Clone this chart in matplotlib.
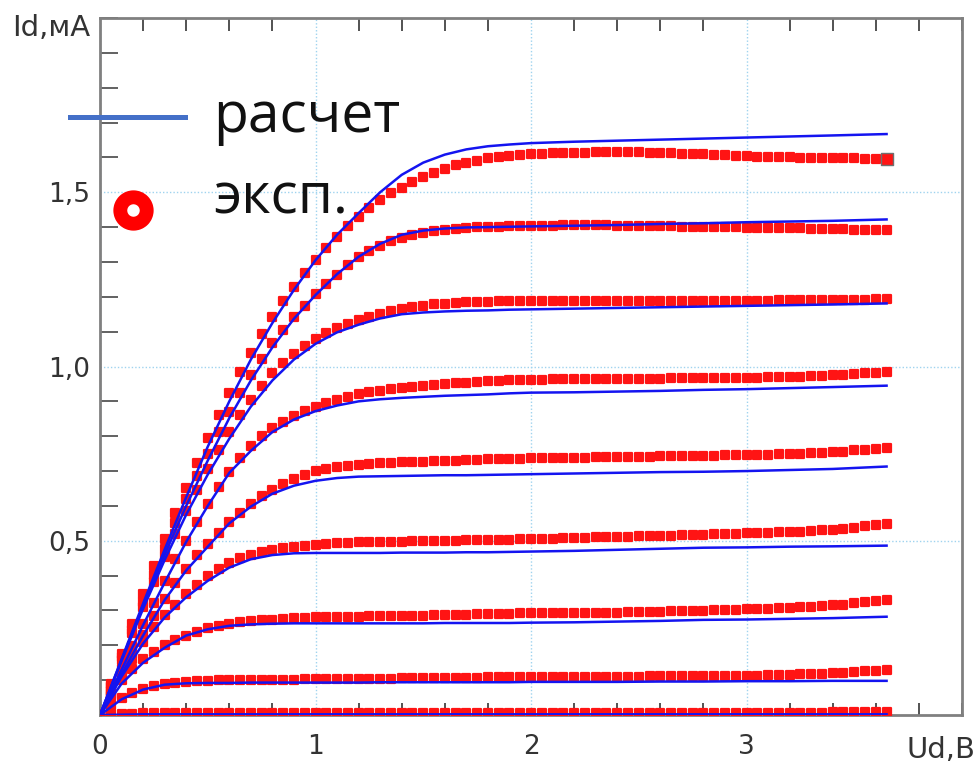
import numpy as np
import matplotlib
matplotlib.use("Agg")
import matplotlib.pyplot as plt
from matplotlib.ticker import MultipleLocator
from matplotlib.lines import Line2D
from matplotlib.markers import MarkerStyle

# ---------------- data ----------------
# experimental sweep (V), step 0.05 V
v_exp = np.round(np.arange(0.0, 3.651, 0.05), 2)

e1 = [0.000, 0.003, 0.004, 0.004, 0.005, 0.005, 0.005, 0.005, 0.005, 0.005,
      0.005, 0.005, 0.005, 0.005, 0.005, 0.005, 0.005, 0.005, 0.005, 0.005,
      0.005, 0.005, 0.005, 0.005, 0.005, 0.005, 0.005, 0.005, 0.005, 0.005,
      0.005, 0.005, 0.005, 0.005, 0.005, 0.005, 0.005, 0.005, 0.005, 0.005,
      0.005, 0.005, 0.006, 0.006, 0.006, 0.006, 0.006, 0.006, 0.006, 0.006,
      0.006, 0.006, 0.006, 0.006, 0.006, 0.006, 0.006, 0.006, 0.006, 0.006,
      0.006, 0.006, 0.007, 0.007, 0.007, 0.007, 0.007, 0.007, 0.008, 0.008,
      0.008, 0.008, 0.009, 0.009]
e2 = [0.000, 0.028, 0.050, 0.064, 0.075, 0.083, 0.089, 0.093, 0.095, 0.097,
      0.098, 0.099, 0.099, 0.100, 0.100, 0.100, 0.101, 0.101, 0.101, 0.102,
      0.102, 0.102, 0.103, 0.103, 0.103, 0.104, 0.104, 0.104, 0.105, 0.105,
      0.106, 0.106, 0.106, 0.107, 0.107, 0.107, 0.108, 0.108, 0.108, 0.109,
      0.109, 0.109, 0.109, 0.109, 0.110, 0.110, 0.110, 0.110, 0.110, 0.110,
      0.110, 0.111, 0.111, 0.111, 0.111, 0.112, 0.112, 0.112, 0.112, 0.113,
      0.113, 0.113, 0.114, 0.115, 0.116, 0.117, 0.118, 0.119, 0.120, 0.121,
      0.123, 0.125, 0.127, 0.129]
e3 = [0.000, 0.055, 0.100, 0.132, 0.160, 0.182, 0.200, 0.215, 0.228, 0.239,
      0.249, 0.256, 0.262, 0.266, 0.270, 0.272, 0.274, 0.276, 0.278, 0.279,
      0.280, 0.281, 0.281, 0.282, 0.282, 0.283, 0.283, 0.284, 0.284, 0.285,
      0.285, 0.286, 0.286, 0.287, 0.288, 0.289, 0.290, 0.291, 0.291, 0.292,
      0.292, 0.292, 0.293, 0.293, 0.293, 0.293, 0.293, 0.294, 0.294, 0.295,
      0.295, 0.296, 0.296, 0.297, 0.297, 0.298, 0.299, 0.300, 0.301, 0.302,
      0.303, 0.304, 0.305, 0.307, 0.308, 0.310, 0.311, 0.313, 0.315, 0.317,
      0.320, 0.323, 0.327, 0.330]
e4 = [0.000, 0.058, 0.112, 0.162, 0.210, 0.252, 0.287, 0.317, 0.346, 0.374,
      0.398, 0.420, 0.437, 0.450, 0.460, 0.468, 0.474, 0.479, 0.483, 0.486,
      0.489, 0.491, 0.493, 0.494, 0.495, 0.496, 0.496, 0.497, 0.497, 0.498,
      0.498, 0.499, 0.500, 0.500, 0.501, 0.502, 0.502, 0.503, 0.503, 0.504,
      0.505, 0.505, 0.506, 0.507, 0.508, 0.509, 0.510, 0.511, 0.512, 0.512,
      0.513, 0.514, 0.515, 0.515, 0.516, 0.517, 0.517, 0.518, 0.519, 0.520,
      0.521, 0.522, 0.523, 0.524, 0.525, 0.526, 0.528, 0.530, 0.532, 0.535,
      0.538, 0.541, 0.545, 0.549]
e5 = [0.000, 0.060, 0.118, 0.175, 0.230, 0.283, 0.332, 0.378, 0.420, 0.458,
      0.492, 0.523, 0.553, 0.580, 0.605, 0.627, 0.647, 0.664, 0.678, 0.690,
      0.700, 0.707, 0.712, 0.715, 0.718, 0.720, 0.722, 0.724, 0.725, 0.726,
      0.727, 0.728, 0.729, 0.730, 0.731, 0.732, 0.734, 0.735, 0.736, 0.736,
      0.737, 0.737, 0.737, 0.738, 0.738, 0.738, 0.739, 0.739, 0.740, 0.740,
      0.741, 0.741, 0.742, 0.742, 0.743, 0.743, 0.744, 0.744, 0.745, 0.745,
      0.746, 0.746, 0.747, 0.748, 0.749, 0.750, 0.751, 0.752, 0.754, 0.756,
      0.759, 0.761, 0.764, 0.767]
e6 = [0.000, 0.068, 0.133, 0.197, 0.260, 0.322, 0.385, 0.447, 0.500, 0.553,
      0.605, 0.653, 0.698, 0.738, 0.772, 0.800, 0.823, 0.842, 0.858, 0.872,
      0.884, 0.895, 0.905, 0.913, 0.920, 0.926, 0.931, 0.935, 0.939, 0.942,
      0.945, 0.948, 0.950, 0.952, 0.954, 0.956, 0.958, 0.959, 0.960, 0.961,
      0.962, 0.962, 0.963, 0.963, 0.963, 0.964, 0.964, 0.964, 0.965, 0.965,
      0.965, 0.965, 0.965, 0.966, 0.966, 0.966, 0.966, 0.966, 0.967, 0.967,
      0.968, 0.968, 0.969, 0.969, 0.970, 0.971, 0.972, 0.973, 0.975, 0.976,
      0.978, 0.980, 0.981, 0.983]
e7 = [0.000, 0.080, 0.158, 0.235, 0.310, 0.383, 0.452, 0.520, 0.585, 0.647,
      0.705, 0.760, 0.812, 0.860, 0.905, 0.945, 0.980, 1.010, 1.037, 1.060,
      1.080, 1.097, 1.111, 1.123, 1.134, 1.143, 1.152, 1.160, 1.166, 1.171,
      1.175, 1.178, 1.180, 1.182, 1.184, 1.185, 1.186, 1.187, 1.187, 1.187,
      1.187, 1.187, 1.187, 1.187, 1.187, 1.187, 1.187, 1.188, 1.188, 1.188,
      1.188, 1.188, 1.188, 1.188, 1.188, 1.189, 1.189, 1.189, 1.189, 1.189,
      1.189, 1.189, 1.189, 1.190, 1.190, 1.190, 1.190, 1.190, 1.191, 1.191,
      1.191, 1.192, 1.193, 1.194]
e8 = [0.000, 0.083, 0.165, 0.245, 0.325, 0.402, 0.477, 0.550, 0.620, 0.687,
      0.750, 0.812, 0.870, 0.925, 0.975, 1.022, 1.066, 1.106, 1.142, 1.175,
      1.207, 1.236, 1.263, 1.290, 1.313, 1.332, 1.347, 1.359, 1.369, 1.377,
      1.383, 1.388, 1.392, 1.395, 1.397, 1.399, 1.400, 1.401, 1.402, 1.403,
      1.403, 1.404, 1.404, 1.405, 1.405, 1.405, 1.405, 1.405, 1.404, 1.404,
      1.403, 1.403, 1.402, 1.402, 1.401, 1.401, 1.400, 1.400, 1.399, 1.399,
      1.398, 1.398, 1.397, 1.397, 1.396, 1.396, 1.395, 1.395, 1.394, 1.394,
      1.393, 1.393, 1.392, 1.392]
e9 = [0.000, 0.088, 0.176, 0.262, 0.346, 0.427, 0.505, 0.580, 0.652, 0.724,
      0.795, 0.862, 0.925, 0.984, 1.040, 1.093, 1.143, 1.187, 1.228, 1.268,
      1.305, 1.340, 1.372, 1.402, 1.430, 1.455, 1.477, 1.497, 1.513, 1.528,
      1.543, 1.556, 1.567, 1.577, 1.585, 1.591, 1.597, 1.601, 1.604, 1.607,
      1.609, 1.611, 1.612, 1.613, 1.614, 1.614, 1.615, 1.615, 1.615, 1.615,
      1.615, 1.614, 1.613, 1.612, 1.611, 1.610, 1.609, 1.608, 1.606, 1.605,
      1.603, 1.602, 1.601, 1.600, 1.600, 1.599, 1.599, 1.598, 1.598, 1.597,
      1.597, 1.596, 1.596, 1.595]
exp_curves = [e1, e2, e3, e4, e5, e6, e7, e8, e9]

# calculated curves
v_calc = [0.0, 0.1, 0.2, 0.3, 0.4, 0.5, 0.6, 0.7, 0.8, 0.9, 1.0, 1.1, 1.2, 1.3,
          1.4, 1.5, 1.6, 1.7, 1.8, 1.9, 2.0, 2.2, 2.4, 2.6, 2.8, 3.0, 3.2, 3.4, 3.65]
c1 = [0.000, 0.001, 0.002, 0.002, 0.002, 0.002, 0.002, 0.002, 0.002, 0.002,
      0.002, 0.002, 0.002, 0.002, 0.002, 0.002, 0.002, 0.002, 0.002, 0.002,
      0.002, 0.002, 0.002, 0.002, 0.002, 0.002, 0.002, 0.002, 0.002]
c2 = [0.000, 0.045, 0.073, 0.087, 0.091, 0.092, 0.092, 0.093, 0.093, 0.093,
      0.093, 0.093, 0.093, 0.094, 0.094, 0.094, 0.094, 0.094, 0.094, 0.094,
      0.095, 0.095, 0.095, 0.096, 0.096, 0.097, 0.097, 0.098, 0.098]
c3 = [0.000, 0.090, 0.150, 0.193, 0.228, 0.246, 0.256, 0.260, 0.262, 0.263,
      0.263, 0.263, 0.263, 0.263, 0.263, 0.263, 0.264, 0.264, 0.264, 0.264,
      0.265, 0.266, 0.268, 0.270, 0.273, 0.274, 0.276, 0.278, 0.282]
c4 = [0.000, 0.110, 0.205, 0.280, 0.338, 0.385, 0.423, 0.447, 0.459, 0.464,
      0.465, 0.465, 0.465, 0.465, 0.466, 0.466, 0.466, 0.467, 0.467, 0.468,
      0.469, 0.471, 0.474, 0.477, 0.480, 0.481, 0.483, 0.484, 0.486]
c5 = [0.000, 0.117, 0.228, 0.330, 0.415, 0.483, 0.550, 0.598, 0.635, 0.658,
      0.672, 0.680, 0.684, 0.685, 0.686, 0.687, 0.688, 0.688, 0.689, 0.690,
      0.691, 0.693, 0.695, 0.697, 0.698, 0.700, 0.703, 0.706, 0.713]
c6 = [0.000, 0.130, 0.258, 0.380, 0.497, 0.600, 0.695, 0.758, 0.812, 0.848,
      0.872, 0.888, 0.900, 0.906, 0.910, 0.913, 0.916, 0.918, 0.920, 0.923,
      0.925, 0.926, 0.928, 0.930, 0.933, 0.935, 0.938, 0.941, 0.945]
c7 = [0.000, 0.155, 0.305, 0.445, 0.575, 0.690, 0.793, 0.885, 0.960, 1.020,
      1.065, 1.098, 1.120, 1.138, 1.150, 1.155, 1.158, 1.160, 1.161, 1.163,
      1.164, 1.166, 1.168, 1.170, 1.172, 1.174, 1.176, 1.178, 1.181]
c8 = [0.000, 0.158, 0.312, 0.460, 0.600, 0.730, 0.852, 0.960, 1.055, 1.137,
      1.205, 1.265, 1.315, 1.352, 1.378, 1.390, 1.396, 1.399, 1.400, 1.401,
      1.402, 1.404, 1.406, 1.409, 1.411, 1.414, 1.416, 1.418, 1.422]
c9 = [0.000, 0.160, 0.320, 0.475, 0.625, 0.770, 0.900, 1.020, 1.125, 1.220,
      1.305, 1.378, 1.440, 1.500, 1.550, 1.585, 1.608, 1.623, 1.632, 1.637,
      1.641, 1.645, 1.648, 1.651, 1.654, 1.657, 1.660, 1.663, 1.667]
calc_curves = [c1, c2, c3, c4, c5, c6, c7, c8, c9]

x_major = [0, 1, 2, 3]
x_labels = ["0", "1", "2", "3"]
y_major = [0.5, 1.0, 1.5]
y_labels = ["0,5", "1,0", "1,5"]
legend_labels = ["расчет", "эксп."]
x_title = "Ud,B"
y_title = "Id,мА"

# ---------------- figure ----------------
W, H = 980, 769
fig = plt.figure(figsize=(W / 100, H / 100), dpi=100)
ax = fig.add_axes([100 / W, 1 - 715 / H, 862 / W, 697 / H])

RED = "#ff1414"
BLUE = "#1414f0"
sq = MarkerStyle("s", joinstyle="round")

for e in exp_curves:
    ax.plot(v_exp, e, linestyle="none", marker=sq, ms=5.8,
            mfc=RED, mec=RED, mew=1.6, zorder=3)
# highlighted last marker of the top curve
ax.plot(v_exp[-1:], e9[-1:], linestyle="none", marker=sq, ms=8.5,
        mfc=RED, mec="#707070", mew=1.0, zorder=4)
for c in calc_curves:
    ax.plot(v_calc, c, color=BLUE, lw=1.8, zorder=5)

ax.set_xlim(0, 4.0)
ax.set_ylim(0, 2.0)

ax.set_xticks(x_major)
ax.set_xticklabels(x_labels)
ax.set_yticks(y_major)
ax.set_yticklabels(y_labels)
ax.xaxis.set_minor_locator(MultipleLocator(0.2))
ax.yaxis.set_minor_locator(MultipleLocator(0.1))

ax.tick_params(axis="x", which="major", length=0, pad=14, labelsize=19,
               labelcolor="#333333")
ax.tick_params(axis="y", which="major", length=0, pad=7, labelsize=19,
               labelcolor="#333333")
ax.tick_params(axis="x", which="minor", direction="in", length=9, width=1.3,
               color="#444444", top=True, bottom=True)
ax.tick_params(axis="y", which="minor", direction="in", length=13, width=1.3,
               color="#555555", left=True, right=False)

ax.grid(True, which="major", linestyle=(0, (1, 1.5)), color="#9fd3ef", lw=1.0)
ax.set_axisbelow(True)
for s in ax.spines.values():
    s.set_color("#808080")
    s.set_linewidth(2.0)

fig.text(12 / W, 1 - 36 / H, y_title, fontsize=21, color="#333333",
         ha="left", va="baseline")
fig.text(975 / W, 1 - 758 / H, x_title, fontsize=21, color="#333333",
         ha="right", va="baseline")

# legend drawn in figure coordinates
fig.add_artist(Line2D([70 / W, 185 / W], [1 - 117 / H, 1 - 117 / H],
                      color="#4470c8", lw=3.6, transform=fig.transFigure))
fig.add_artist(Line2D([133 / W], [1 - 210 / H], marker="o", ms=19, mew=10,
                      mfc="white", mec="#ff0000", linestyle="none",
                      transform=fig.transFigure))
fig.text(213 / W, 1 - 132 / H, legend_labels[0], fontsize=41,
         family="Open Sans", color="#111111", ha="left", va="baseline")
fig.text(213 / W, 1 - 213 / H, legend_labels[1], fontsize=41,
         family="Open Sans", color="#111111", ha="left", va="baseline")

fig.savefig("out.png", dpi=100)
